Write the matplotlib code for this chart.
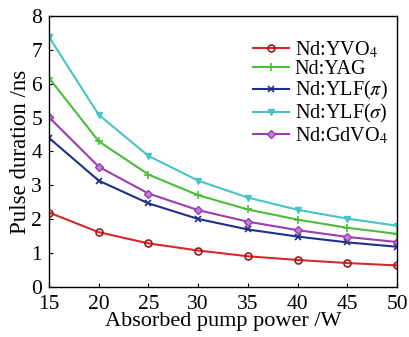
import matplotlib
matplotlib.use("Agg")
import matplotlib.pyplot as plt

power = [15, 20, 25, 30, 35, 40, 45, 50]
yvo4 = [2.20, 1.62, 1.29, 1.08, 0.91, 0.80, 0.71, 0.64]
yag = [6.17, 4.30, 3.32, 2.71, 2.29, 1.99, 1.75, 1.57]
ylf_pi = [4.40, 3.14, 2.47, 2.01, 1.70, 1.49, 1.32, 1.19]
ylf_sigma = [7.38, 5.08, 3.87, 3.14, 2.64, 2.28, 2.02, 1.81]
gdvo4 = [5.01, 3.55, 2.76, 2.27, 1.93, 1.68, 1.48, 1.33]

labels = ["Nd:YVO$_4$", "Nd:YAG", r"Nd:YLF($\pi$)", r"Nd:YLF($\sigma$)", "Nd:GdVO$_4$"]
xticks = [15, 20, 25, 30, 35, 40, 45, 50]
yticks = [0, 1, 2, 3, 4, 5, 6, 7, 8]

plt.rcParams['font.family'] = ['Liberation Serif', 'DejaVu Serif']
plt.rcParams['mathtext.fontset'] = 'stix'

fig = plt.figure(figsize=(4.1, 3.37), dpi=100)
ax = fig.add_axes([0.1195, 0.148, 0.849, 0.805])

ax.plot(power, yvo4, color='#d82828', marker='o', mfc='none', mec='#a01818', ms=5, mew=1.2, lw=1.5, label=labels[0])
ax.plot(power, yag, color='#4cbc3c', marker='+', ms=6, mew=1.2, lw=1.5, label=labels[1])
ax.plot(power, ylf_pi, color='#1e3088', marker='x', ms=4, mew=1.2, lw=1.5, label=labels[2])
ax.plot(power, ylf_sigma, color='#48c4c8', marker='v', ms=4.5, lw=1.5, label=labels[3])
ax.plot(power, gdvo4, color='#9c3cb0', marker='D', mfc='#c080d0', mec='#9c3cb0', ms=4.5, lw=1.5, label=labels[4])

ax.set_xlim(15, 50)
ax.set_ylim(0, 8)
ax.set_xticks(xticks)
ax.set_yticks(yticks)
ax.tick_params(direction='in', length=3, labelsize=15.5, top=False, right=False)
ax.tick_params(axis='x', pad=5.5)
ax.tick_params(axis='y', pad=5)
for s in ax.spines.values():
    s.set_linewidth(1.0)
ax.set_xlabel("Absorbed pump power /W", fontsize=16, labelpad=-1)
ax.set_ylabel("Pulse duration /ns", fontsize=16.5, labelpad=0)

ax.legend(loc='upper right', frameon=False, fontsize=14.5, handlelength=1.8,
          handletextpad=0.3, labelspacing=0.0, bbox_to_anchor=(1.025, 0.98))

fig.savefig("out.png", dpi=100)
